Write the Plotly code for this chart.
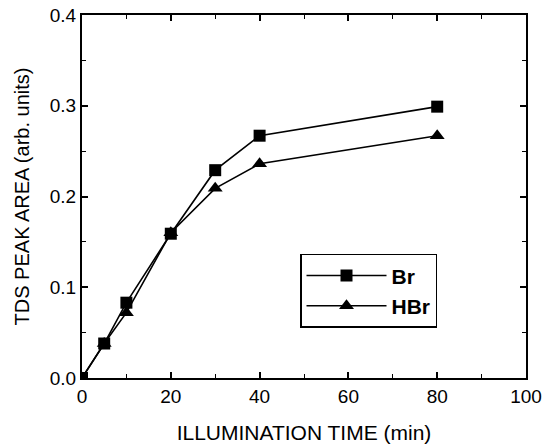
import plotly.graph_objects as go

time_min = [0, 5, 10, 20, 30, 40, 80]
br_area = [0.0, 0.038, 0.083, 0.159, 0.229, 0.267, 0.299]
hbr_area = [0.0, 0.038, 0.072, 0.160, 0.209, 0.236, 0.267]
series_names = ["Br", "HBr"]
x_ticks = [0, 20, 40, 60, 80, 100]
y_ticks = [0.0, 0.1, 0.2, 0.3, 0.4]
y_tick_text = ["0.0", "0.1", "0.2", "0.3", "0.4"]

FONT = "Liberation Sans, Arial, Helvetica, sans-serif"

fig = go.Figure()
fig.add_trace(go.Scatter(
    x=time_min, y=br_area, name=series_names[0], mode="lines+markers",
    line=dict(color="black", width=1.6),
    marker=dict(symbol="square", size=12, color="black"),
))
fig.add_trace(go.Scatter(
    x=time_min, y=hbr_area, name=series_names[1], mode="lines+markers",
    line=dict(color="black", width=1.6),
    marker=dict(symbol="triangle-up", size=13, color="black"),
))

axis_common = dict(
    showline=True, linecolor="black", linewidth=2, mirror="ticks",
    ticks="inside", ticklen=6, tickwidth=1.5, tickcolor="black",
    showgrid=False, zeroline=False,
    tickfont=dict(family=FONT, size=19, color="black"),
)

fig.update_xaxes(
    range=[0, 100], tickvals=x_ticks,
    minor=dict(dtick=10, ticks="inside", ticklen=4, tickcolor="black", tickwidth=1.2),
    title=dict(text="ILLUMINATION TIME (min)", font=dict(family=FONT, size=21, color="black"), standoff=25),
    **axis_common,
)
fig.update_yaxes(
    range=[0, 0.4], tickvals=y_ticks, ticktext=y_tick_text,
    minor=dict(dtick=0.05, ticks="inside", ticklen=4, tickcolor="black", tickwidth=1.2),
    title=dict(text="TDS PEAK AREA (arb. units)", font=dict(family=FONT, size=20, color="black"), standoff=15),
    **axis_common,
)

fig.update_layout(
    width=542, height=444,
    margin=dict(l=82, r=16, t=15, b=66, autoexpand=False),
    paper_bgcolor="white", plot_bgcolor="white",
    showlegend=True,
    legend=dict(
        x=0.491, y=0.342, xanchor="left", yanchor="top",
        bordercolor="black", borderwidth=1.5, bgcolor="white",
        font=dict(family=FONT, size=21, color="black", weight="bold"),
        itemwidth=80, tracegroupgap=0,
    ),
)

# remove the default 8px page margin so the figure sits at the window's top-left corner
fig.write_html("out.html", config={"displayModeBar": False},
               post_script="document.body.style.margin='0';")
